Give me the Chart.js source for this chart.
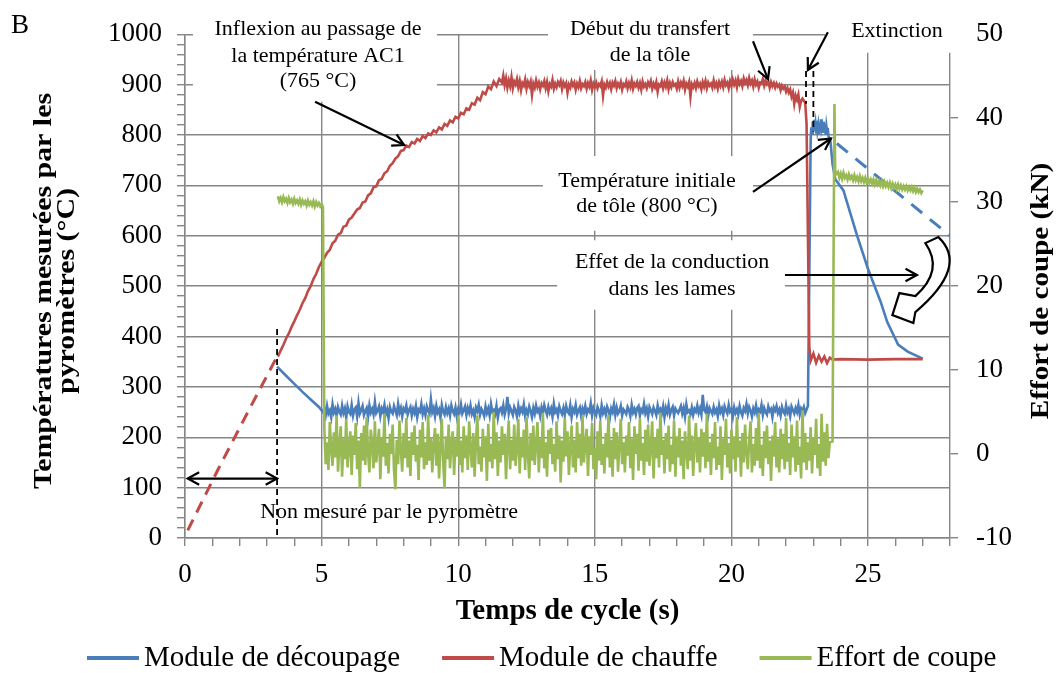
<!DOCTYPE html>
<html lang="fr">
<head>
<meta charset="utf-8">
<title>Températures et effort de coupe</title>
<script src="https://cdn.jsdelivr.net/npm/chart.js@4.4.1/dist/chart.umd.min.js"></script>
<style>
    html, body { margin: 0; padding: 0; background: #fff; }
    #wrap { width: 1061px; height: 673px; }
</style>
</head>
<body>
<div id="wrap"><canvas id="cycleChart" width="1061" height="673"></canvas></div>
<script>
// ============================================
// DONNÉES
// ============================================

// pas d'acquisition des signaux échantillonnés (s)
const SLOW_STEP = 0.1;
const FAST_STEP = 0.05;
const PEAK_STEP = 0.025;

// graduations affichées
const timeTickLabels = [0, 5, 10, 15, 20, 25];
const tempTickLabels = [0, 100, 200, 300, 400, 500, 600, 700, 800, 900, 1000];
const forceTickLabels = [-10, 0, 10, 20, 30, 40, 50];

// Module de chauffe : extrapolation avant la mesure pyromètre (pointillés)
const redDashTime = [0.1, 1.2, 2.3, 3.37];
const redDashTemp = [15, 135, 250, 360];

// Module de chauffe : montée en température, à partir de 3.4 s (pas 0.1 s)
const redRampStart = 3.4;
const redRampTemp = [
    360, 372, 383, 396, 406, 419,
    430, 442, 453, 466, 476, 490, 500, 514, 524, 538,
    548, 556, 566, 572, 585, 590, 602, 605, 618, 620,
    632, 636, 644, 652, 655, 666, 668, 680, 684, 696,
    698, 710, 713, 724, 728, 739, 744, 753, 758, 768,
    770, 779, 776, 786, 783, 792, 788, 798, 794, 803,
    800, 809, 805, 815, 811, 822, 818, 829, 825, 836,
    833, 844, 841, 853, 850, 863, 860, 874, 869, 885,
    881, 896, 891, 906, 897, 911
];

// Module de chauffe : palier, à partir de 11.6 s (pas 0.05 s)
const redPlateauStart = 11.6;
const redPlateauTemp = [
    904, 918, 899, 912, 894, 908, 897, 915, 893, 906,
    900, 911, 895, 907, 889, 903, 898, 910, 892, 905,
    897, 906, 880, 902, 894, 908, 896, 904, 891, 903,
    898, 907, 893, 905, 887, 901, 896, 909, 892, 902,
    895, 905, 899, 907, 891, 904, 897, 903, 884, 900,
    894, 906, 898, 904, 890, 902, 895, 907, 893, 901,
    897, 905, 892, 903, 896, 908, 890, 902, 895, 904,
    893, 901, 897, 906, 878, 900, 894, 905, 896, 903,
    891, 904, 898, 907, 893, 902, 896, 905, 890, 901,
    897, 906, 893, 903, 895, 908, 892, 902, 897, 905,
    894, 903, 890, 906, 896, 901, 893, 904, 898, 907,
    892, 902, 895, 905, 886, 900, 897, 906, 893, 904,
    896, 908, 891, 903, 895, 905, 898, 901, 892, 906,
    894, 904, 897, 907, 890, 902, 896, 905, 876, 901,
    895, 903, 893, 906, 897, 902, 891, 905, 896, 907,
    893, 904, 898, 902, 894, 908, 896, 903, 892, 905,
    897, 906, 895, 909, 899, 904, 893, 907, 898, 910,
    900, 908, 895, 911, 901, 907, 897, 912, 903, 909,
    899, 913, 902, 908, 896, 910, 900, 906, 894, 904,
    903, 911, 898, 908, 901, 906, 894, 905, 897, 903,
    894, 902, 896, 900, 889, 898, 892, 896, 886, 893,
    884, 890, 876, 884, 862, 878, 870, 880, 856, 868
];

// Module de chauffe : transfert puis lames
const redDropTime = [22.6, 22.7, 22.75, 22.8, 22.85, 22.9, 23.0, 23.1, 23.2, 23.3, 23.4, 23.5, 23.6, 23.7, 24.0, 25.0, 26.0, 27.0];
const redDropTemp = [872, 864, 822, 600, 380, 352, 366, 348, 362, 350, 360, 347, 358, 354, 355, 354, 355, 355];

// Module de découpage : refroidissement initial
const blueCoolTime = [3.37, 3.7, 4.0, 4.3, 4.6, 4.9, 5.05];
const blueCoolTemp = [340, 322, 306, 290, 275, 260, 250];

// Module de découpage : signal bruité, à partir de 5.1 s (pas 0.05 s)
const blueNoiseStart = 5.1;
const blueNoiseTemp = [
    258, 244, 262, 247, 253, 240, 265, 249, 256, 242,
    260, 251, 245, 263, 248, 257, 239, 261, 250, 246,
    264, 243, 255, 259, 241, 268, 247, 254, 262, 244,
    252, 258, 240, 263, 249, 256, 245, 270, 248, 253,
    261, 242, 257, 250, 264, 246, 255, 238, 260, 251,
    247, 262, 253, 244, 266, 249, 258, 241, 257, 252,
    263, 245, 254, 260, 243, 256, 248, 262, 240, 255,
    251, 266, 246, 257, 244, 261, 253, 247, 275, 250,
    258, 242, 262, 249, 255, 239, 264, 251, 245, 260,
    248, 257, 243, 263, 252, 246, 259, 241, 256, 250,
    265, 247, 254, 261, 244, 258, 249, 263, 246, 253,
    240, 259, 252, 264, 245, 256, 250, 242, 261, 248,
    257, 243, 266, 251, 254, 246, 262, 239, 255, 258,
    249, 263, 245, 256, 280, 247, 259, 252, 244, 260,
    253, 241, 262, 248, 257, 250, 265, 243, 254, 246,
    261, 252, 240, 258, 247, 263, 251, 256, 242, 259,
    248, 264, 254, 245, 260, 249, 257, 241, 266, 250,
    255, 243, 261, 252, 246, 258, 244, 262, 251, 247,
    263, 240, 256, 250, 264, 245, 253, 259, 242, 257,
    249, 262, 246, 255, 251, 267, 243, 258, 250, 244,
    260, 253, 241, 263, 248, 256, 245, 261, 254, 239,
    257, 250, 265, 244, 259, 247, 252, 262, 243, 255,
    251, 246, 260, 254, 242, 264, 249, 256, 245, 258,
    262, 243, 255, 250, 266, 248, 257, 241, 260, 253,
    246, 259, 252, 244, 263, 251, 256, 247, 261, 240,
    258, 249, 264, 245, 254, 260, 243, 257, 252, 248,
    255, 262, 247, 258, 241, 265, 250, 253, 246, 259,
    244, 256, 251, 263, 248, 257, 245, 284, 254, 250,
    261, 243, 258, 252, 246, 260, 249, 255, 242, 263,
    250, 257, 244, 261, 253, 247, 264, 251, 256, 241,
    259, 248, 255, 245, 262, 250, 243, 258, 252, 266,
    247, 260, 253, 241, 257, 249, 263, 246, 255, 251,
    264, 244, 258, 250, 245, 261, 252, 256, 240, 259,
    253, 262, 248, 255, 243, 260, 251, 246, 263, 249,
    256, 242, 261, 254, 247, 258, 250, 264, 245, 257,
    252, 260, 248, 255
];

// Module de découpage : arrivée de la tôle chaude
const blueRiseTime = [22.8, 22.85];
const blueRiseTemp = [262, 520];
const bluePeakStart = 22.9;
const bluePeakTemp = [
    792, 815, 803, 826, 808, 830, 812, 822, 805, 828,
    810, 819, 801, 825, 808, 831, 812, 818, 804, 826,
    809, 821, 800, 817, 806, 814, 798
];

// Module de découpage : conduction dans les lames
const blueDecayTime = [23.62, 23.7, 23.8, 24.1, 24.35, 24.6, 25.0, 25.46, 25.7, 26.1, 26.45, 27.0];
const blueDecayTemp = [790, 742, 712, 690, 645, 600, 534, 469, 429, 384, 370, 356];

// Module de découpage : refroidissement sans conduction (pointillés)
const blueDashTime = [23.86, 28];
const blueDashTemp = [783, 600];

// Effort de coupe (kN)
const greenStartAt = 3.4;
const greenStartForce = [
    30.7, 30.1, 30.5, 30.0, 30.6, 30.1, 30.4, 29.9, 30.5, 30.0,
    30.3, 29.8, 30.4, 29.9, 30.2, 29.8, 30.3, 29.7, 30.2, 29.8,
    30.1, 29.6, 30.2, 29.7, 30.0, 29.6, 30.1, 29.5, 30.0, 29.6,
    29.9, 29.5, 29.8
];
const greenDropTime = [5.05];
const greenDropForce = [29.4];
const greenNoiseStart = 5.1;
const greenNoiseForce = [
    3.1, -1.2, 1.4, -1.9, 3.8, 0.7, -1.4, 2.6, -0.4, 4.6,
    -2.1, 1.0, 3.3, -2.7, 1.8, -0.6, 4.2, -1.6, 0.8, 2.7,
    -2.5, 2.2, -0.1, 3.7, -1.8, 1.6, -4.0, 2.5, -0.8, 3.4,
    -1.3, 4.4, 0.1, -2.2, 2.9, 1.2, -1.7, 3.9, -1.0, 0.9,
    3.0, -3.0, 2.0, -0.3, 4.8, -1.4, 1.3, -2.3, 2.4, 0.0,
    3.5, -1.9, -4.2, 1.7, -1.2, 4.0, 0.5, -2.1, 2.5, -0.5,
    4.3, -1.6, 1.6, -2.6, 2.6, -0.1, 3.4, -0.9, 1.1, -3.1,
    2.9, -0.4, 3.8, -1.8, 1.4, -1.3, 4.7, -0.8, 2.0, -2.2,
    1.2, 3.1, -1.4, 2.4, -2.9, 0.8, 4.2, -1.0, -4.1, 2.1,
    -0.6, 3.5, -1.7, 1.3, 2.7, -2.5, 1.8, -0.3, 4.6, -1.3,
    1.6, -2.2, 3.3, -0.5, 2.2, -1.9, 3.9, 0.7, -1.6, 2.5,
    -2.7, 1.4, 4.6, -1.2, 0.9, -2.1, 3.0, -0.4, 2.1, -3.2,
    3.6, -0.9, 1.2, -1.7, 5.0, -0.6, 2.6, -2.6, 1.6, -1.0,
    3.3, -0.1, 2.4, -3.0, 1.3, 4.0, -1.8, 1.7, -0.8, 3.5,
    -1.4, 0.8, 4.2, -2.3, 2.0, -0.4, 2.9, -1.9, 4.4, 0.1,
    -2.9, 2.5, -0.8, 3.4, -1.3, 1.1, 3.8, -2.2, 1.8, -0.5,
    4.9, -1.7, 1.4, -2.7, 2.9, 0.0, 3.1, -1.2, 1.2, -2.1,
    3.9, -0.6, 2.2, -3.4, 1.6, -0.9, 4.3, -0.3, 2.7, -2.5,
    0.9, 3.4, -1.6, 1.7, -2.2, 3.8, -0.5, 2.4, -1.4, 4.6,
    -1.0, 1.3, 3.0, -2.6, 2.1, -0.1, 3.7, -1.8, 0.7, -3.0,
    2.7, -0.8, 4.0, -1.3, 1.2, -2.3, 2.5, -0.4, 4.7, -1.6,
    1.7, -2.7, 3.1, -0.6, 2.6, -2.1, 1.1, 4.2, -1.2, 1.4,
    -2.2, 2.2, -0.2, 3.8, -1.7, 1.8, -3.1, 3.3, 0.0, 2.4,
    -2.0, 4.3, -0.8, 1.3, -2.5, 2.9, -0.9, 3.5, -1.4, 0.8,
    3.9, -2.9, 2.0, -0.5, 3.0, -1.6, 4.9, -0.1, 1.7, -2.3,
    2.5, -0.6, 3.4, -2.1, 1.1, -1.2, 4.0, -2.7, 2.1, -0.4,
    3.1, -1.4, 1.6, -3.0, 2.7, 0.5, -1.8, 4.6, -0.8, 2.2,
    -2.6, 1.2, 3.7, -1.0, 2.0, -2.2, 3.0, -0.3, 2.6, -1.7,
    4.8, -0.9, 1.4, -2.5, 2.4, -0.5, 3.8, -1.9, 0.9, -1.3,
    3.3, -3.1, 1.8, -0.1, 4.2, -1.6, 1.3, -2.3, 2.9, -0.6,
    2.1, -2.1, 4.4, -0.4, 1.6, -2.7, 2.5, -1.0, 3.5, 0.1,
    -1.8, 1.7, 3.9, -2.2, 1.2, -1.4, 3.1, -0.8, 4.9, -1.7,
    1.1, -2.6, 2.7, -0.5, 3.4, -1.2, 1.6, -3.2, 2.2, -0.3,
    3.8, -1.6, 1.8, -2.2, 3.0, -0.6, 2.4, -1.8, 4.3, -0.9,
    1.3, -2.5, 3.5, -0.4, 2.1, -2.1, 4.0, -1.3, 0.9, -2.9,
    5.2, -1.0, 2.5, -1.9, 1.4, -0.8, 3.2, -2.3, 2.0, -0.1,
    4.2, -1.7, 1.2, -2.6, 4.8, -0.9, 2.6, -1.4, 3.6, -0.5,
    1.4
];
const greenJumpTime = [23.7, 23.77, 23.8];
const greenJumpForce = [1.5, 41.7, 33.2];
const greenEndStart = 23.9;
const greenEndForce = [
    33.6, 32.9, 33.4, 32.8, 33.5, 32.9, 33.2, 32.7, 33.3, 32.8,
    33.1, 32.6, 33.2, 32.6, 33.0, 32.5, 33.1, 32.5, 32.9, 32.4,
    32.9, 32.3, 32.8, 32.3, 32.7, 32.2, 32.7, 32.1, 32.6, 32.1,
    32.5, 32.0, 32.5, 31.9, 32.4, 31.9, 32.3, 31.8, 32.3, 31.7,
    32.2, 31.7, 32.1, 31.6, 32.1, 31.6, 32.0, 31.5, 31.9, 31.5,
    31.9, 31.4, 31.8, 31.4, 31.8, 31.3, 31.7, 31.2, 31.6, 31.2,
    31.5, 31.1, 31.4
];

// ============================================
// COULEURS / POLICES
// ============================================

const COLORS = {
    blue: '#4a7ebb',
    red: '#be4b48',
    green: '#98b954',
    grid: '#868686'
};
const SERIF = '"Liberation Serif", "Times New Roman", serif';

// ============================================
// CONSTRUCTION DES SÉRIES
// ============================================

function paired(times, values) {
    return times.map((t, i) => ({ x: t, y: values[i] }));
}

function sampled(start, step, values) {
    return values.map((v, i) => ({ x: +(start + i * step).toFixed(3), y: v }));
}

const redSeries = [
    ...sampled(redRampStart, SLOW_STEP, redRampTemp),
    ...sampled(redPlateauStart, FAST_STEP, redPlateauTemp),
    ...paired(redDropTime, redDropTemp)
];
const blueSeries = [
    ...paired(blueCoolTime, blueCoolTemp),
    ...sampled(blueNoiseStart, FAST_STEP, blueNoiseTemp),
    ...paired(blueRiseTime, blueRiseTemp),
    ...sampled(bluePeakStart, PEAK_STEP, bluePeakTemp),
    ...paired(blueDecayTime, blueDecayTemp)
];
const greenSeries = [
    ...sampled(greenStartAt, FAST_STEP, greenStartForce),
    ...paired(greenDropTime, greenDropForce),
    ...sampled(greenNoiseStart, FAST_STEP, greenNoiseForce),
    ...paired(greenJumpTime, greenJumpForce),
    ...sampled(greenEndStart, FAST_STEP, greenEndForce)
];

// ============================================
// ANNOTATIONS (coordonnées en s / °C)
// ============================================

const textNotes = [
    { lines: ['Inflexion au passage de', 'la température AC1', '(765 °C)'], x: 4.87, temps: [1010, 957, 906], box: [0.29, 9.22, 1051, 866] },
    { lines: ['Début du transfert', 'de la tôle'], x: 17.02, temps: [1010, 959], box: [13.29, 20.79, 1051, 929] },
    { lines: ['Extinction'], x: 26.06, temps: [1006], box: [23.43, 28.44, 1051, 963] },
    { lines: ['Température initiale', 'de tôle (800 °C)'], x: 16.91, temps: [709, 659], box: [13.1, 20.79, 758, 610] },
    { lines: ['Effet de la conduction', 'dans les lames'], x: 17.83, temps: [547, 494], box: [13.62, 21.96, 591, 453] },
    { lines: ['Non mesuré par le pyromètre'], x: 7.47, temps: [51], box: null }
];

const arrowNotes = [
    { from: [4.76, 866], to: [8.02, 780] },
    { from: [20.79, 986], to: [21.34, 911] },
    { from: [23.53, 1004], to: [22.8, 929] },
    { from: [20.79, 687], to: [23.64, 793] },
    { from: [21.96, 522], to: [26.79, 522] },
    { from: [0.1, 118], to: [3.37, 118], both: true }
];

const guideNotes = [
    { x: 3.37, top: 415, bottom: 0 },
    { x: 22.73, top: 927, bottom: 862 },
    { x: 23.0, top: 927, bottom: 807 }
];

// flèche courbe (décalages en px autour du point d'ancrage)
const bendAnchor = [26, 500];

// ============================================
// DESSIN DES ANNOTATIONS
// ============================================

function drawArrowHead(ctx, x0, y0, x1, y1) {
    const ang = Math.atan2(y1 - y0, x1 - x0);
    const len = 13;
    const spread = 0.5;
    ctx.beginPath();
    ctx.moveTo(x1 - len * Math.cos(ang - spread), y1 - len * Math.sin(ang - spread));
    ctx.lineTo(x1, y1);
    ctx.lineTo(x1 - len * Math.cos(ang + spread), y1 - len * Math.sin(ang + spread));
    ctx.stroke();
}

const notesPlugin = {
    id: 'notes',
    beforeDatasetsDraw(chart) {
        const { ctx } = chart;
        const xs = chart.scales.x;
        const ys = chart.scales.y;
        ctx.save();
        // cadres blancs des zones de texte
        ctx.fillStyle = '#fff';
        textNotes.forEach(note => {
            if (!note.box) return;
            const [x0, x1, t0, t1] = note.box;
            const left = xs.getPixelForValue(x0);
            const right = xs.getPixelForValue(x1);
            const top = ys.getPixelForValue(t0);
            const bottom = ys.getPixelForValue(t1);
            ctx.fillRect(left, top, right - left, bottom - top);
        });
        ctx.fillStyle = '#000';
        ctx.font = '22px ' + SERIF;
        ctx.textAlign = 'center';
        ctx.textBaseline = 'middle';
        textNotes.forEach(note => {
            const px = xs.getPixelForValue(note.x);
            note.lines.forEach((line, i) => {
                ctx.fillText(line, px, ys.getPixelForValue(note.temps[i]));
            });
        });
        ctx.restore();
    },
    afterDatasetsDraw(chart) {
        const { ctx } = chart;
        const xs = chart.scales.x;
        const ys = chart.scales.y;
        ctx.save();
        ctx.strokeStyle = '#000';
        ctx.lineCap = 'butt';

        // repères verticaux en pointillés
        ctx.lineWidth = 1.8;
        ctx.setLineDash([6, 4]);
        guideNotes.forEach(g => {
            const px = xs.getPixelForValue(g.x);
            ctx.beginPath();
            ctx.moveTo(px, ys.getPixelForValue(g.top));
            ctx.lineTo(px, ys.getPixelForValue(g.bottom));
            ctx.stroke();
        });
        ctx.setLineDash([]);

        // flèches droites
        ctx.lineWidth = 2.2;
        arrowNotes.forEach(a => {
            const x0 = xs.getPixelForValue(a.from[0]);
            const y0 = ys.getPixelForValue(a.from[1]);
            const x1 = xs.getPixelForValue(a.to[0]);
            const y1 = ys.getPixelForValue(a.to[1]);
            ctx.beginPath();
            ctx.moveTo(x0, y0);
            ctx.lineTo(x1, y1);
            ctx.stroke();
            drawArrowHead(ctx, x0, y0, x1, y1);
            if (a.both) drawArrowHead(ctx, x1, y1, x0, y0);
        });

        // flèche courbe (effet de la conduction)
        const ax = xs.getPixelForValue(bendAnchor[0]);
        const ay = ys.getPixelForValue(bendAnchor[1]);
        ctx.beginPath();
        ctx.moveTo(ax + 30, ay - 43);
        ctx.quadraticCurveTo(ax + 49, ay - 16, ax + 20, ay + 10);
        ctx.lineTo(ax + 4, ay + 7);
        ctx.lineTo(ax - 3, ay + 29);
        ctx.lineTo(ax + 18, ay + 37);
        ctx.lineTo(ax + 20, ay + 26);
        ctx.quadraticCurveTo(ax + 74, ay - 20, ax + 43, ay - 49);
        ctx.closePath();
        ctx.fillStyle = '#fff';
        ctx.fill();
        ctx.lineWidth = 2.2;
        ctx.lineJoin = 'miter';
        ctx.stroke();
        ctx.restore();
    },
    afterDraw(chart) {
        const { ctx } = chart;
        ctx.save();
        ctx.fillStyle = '#000';

        // lettre de la sous-figure
        ctx.font = '27px ' + SERIF;
        ctx.textAlign = 'left';
        ctx.textBaseline = 'alphabetic';
        ctx.fillText('B', 11, 33);

        // titres des axes verticaux (lus de bas en haut)
        ctx.font = 'bold 26px ' + SERIF;
        ctx.textAlign = 'center';
        ctx.textBaseline = 'middle';
        const leftTitle = ['Températures mesurées par les', 'pyromètres (°C)'];
        ctx.save();
        ctx.translate(55.5, 291);
        ctx.rotate(-Math.PI / 2);
        ctx.scale(1.15, 1);
        leftTitle.forEach((line, i) => ctx.fillText(line, 0, (i - 0.5) * 23));
        ctx.restore();

        ctx.save();
        ctx.translate(1041, 291);
        ctx.rotate(-Math.PI / 2);
        ctx.scale(1.12, 1);
        ctx.fillText('Effort de coupe (kN)', 0, 0);
        ctx.restore();

        // légende
        ctx.font = '29px ' + SERIF;
        ctx.textAlign = 'left';
        ctx.textBaseline = 'middle';
        let cx = 87;
        const ly = 658;
        chart.data.datasets.filter(ds => ds.inLegend).forEach(ds => {
            ctx.strokeStyle = ds.borderColor;
            ctx.lineWidth = 4;
            ctx.beginPath();
            ctx.moveTo(cx, ly);
            ctx.lineTo(cx + 52, ly);
            ctx.stroke();
            cx += 57;
            ctx.fillText(ds.label, cx, ly);
            cx += ctx.measureText(ds.label).width + 42;
        });
        ctx.restore();
    }
};

// ============================================
// GRAPHIQUE
// ============================================

function createCycleChart() {
    const ctx = document.getElementById('cycleChart').getContext('2d');
    return new Chart(ctx, {
        type: 'line',
        data: {
            datasets: [
                {
                    label: 'Module de découpage',
                    inLegend: true,
                    data: blueSeries,
                    yAxisID: 'y',
                    borderColor: COLORS.blue,
                    borderWidth: 2.6,
                    order: 3
                },
                {
                    label: 'Module de chauffe',
                    inLegend: true,
                    data: redSeries,
                    yAxisID: 'y',
                    borderColor: COLORS.red,
                    borderWidth: 2.6,
                    order: 2
                },
                {
                    label: 'Effort de coupe',
                    inLegend: true,
                    data: greenSeries,
                    yAxisID: 'y1',
                    borderColor: COLORS.green,
                    borderWidth: 2.6,
                    order: 1
                },
                {
                    label: 'Module de chauffe (extrapolé)',
                    data: paired(redDashTime, redDashTemp),
                    yAxisID: 'y',
                    borderColor: COLORS.red,
                    borderWidth: 3,
                    borderDash: [12, 8],
                    order: 4
                },
                {
                    label: 'Module de découpage (sans conduction)',
                    data: paired(blueDashTime, blueDashTemp),
                    yAxisID: 'y',
                    borderColor: COLORS.blue,
                    borderWidth: 3,
                    borderDash: [14, 10],
                    order: 4
                }
            ]
        },
        options: {
            responsive: false,
            animation: false,
            devicePixelRatio: 1,
            parsing: false,
            elements: {
                point: { radius: 0 },
                line: { tension: 0, fill: false }
            },
            layout: {
                padding: { top: 30, right: 0, bottom: 40, left: 0 }
            },
            plugins: {
                legend: { display: false },
                tooltip: { enabled: false }
            },
            scales: {
                x: {
                    type: 'linear',
                    min: 0,
                    max: 28,
                    afterFit: scale => { scale.height = 95; },
                    border: { color: COLORS.grid, width: 1.4 },
                    grid: {
                        color: c => (c.tick && timeTickLabels.includes(c.tick.value)) ? COLORS.grid : 'transparent',
                        lineWidth: 1.4,
                        tickColor: COLORS.grid,
                        tickLength: 8
                    },
                    ticks: {
                        stepSize: 1,
                        autoSkip: false,
                        maxRotation: 0,
                        padding: 13,
                        color: '#000',
                        font: { family: SERIF, size: 27 },
                        callback: v => timeTickLabels.includes(v) ? String(v) : ''
                    },
                    title: {
                        display: true,
                        text: 'Temps de cycle (s)',
                        color: '#000',
                        padding: { top: 0, bottom: 4 },
                        font: { family: SERIF, size: 29, weight: 'bold' }
                    }
                },
                y: {
                    type: 'linear',
                    position: 'left',
                    min: 0,
                    max: 1000,
                    afterFit: scale => { scale.width = 185; },
                    border: { color: COLORS.grid, width: 1.4 },
                    grid: {
                        color: c => (c.tick && tempTickLabels.includes(c.tick.value)) ? COLORS.grid : 'transparent',
                        lineWidth: 1.4,
                        tickColor: COLORS.grid,
                        tickLength: 8
                    },
                    ticks: {
                        stepSize: 20,
                        autoSkip: false,
                        padding: 15,
                        color: '#000',
                        font: { family: SERIF, size: 27 },
                        callback: v => tempTickLabels.includes(v) ? String(v) : ''
                    }
                },
                y1: {
                    type: 'linear',
                    position: 'right',
                    min: -10,
                    max: 50,
                    afterFit: scale => { scale.width = 111; },
                    border: { color: COLORS.grid, width: 1.4 },
                    grid: {
                        drawOnChartArea: false,
                        tickColor: COLORS.grid,
                        tickLength: 8,
                        lineWidth: 1.4
                    },
                    ticks: {
                        stepSize: 10,
                        autoSkip: false,
                        padding: 18,
                        color: '#000',
                        font: { family: SERIF, size: 27 },
                        callback: v => forceTickLabels.includes(v) ? String(v) : ''
                    }
                }
            }
        },
        plugins: [notesPlugin]
    });
}

document.addEventListener('DOMContentLoaded', () => {
    createCycleChart();
});
</script>
</body>
</html>
